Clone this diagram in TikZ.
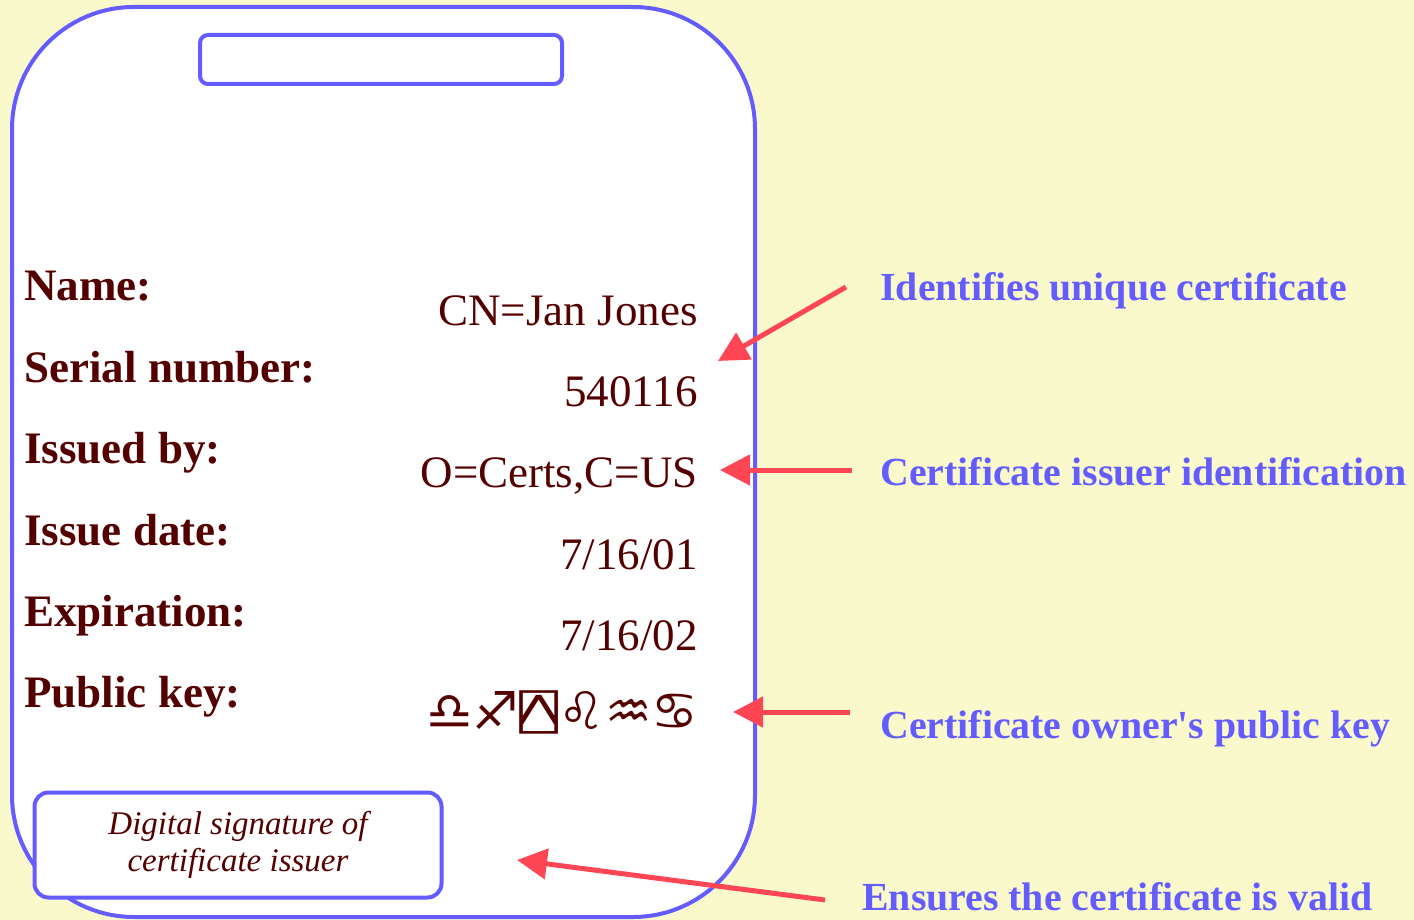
\documentclass[tikz,border=0pt]{standalone}
\usepackage{fontspec}
\setmainfont{Liberation Serif}
\newfontfamily\notefont{Liberation Serif}
\newfontfamily\zodiacfont{DejaVu Sans}
\newfontfamily\aplfont{DejaVu Sans Mono}
\usetikzlibrary{arrows.meta}

\definecolor{pagebg}{RGB}{250,249,204}
\definecolor{cardblue}{RGB}{100,92,255}
\definecolor{arrowred}{RGB}{255,70,85}
\definecolor{inkbrown}{RGB}{85,0,0}

\begin{document}
\begin{tikzpicture}[
  x=0.5pt, y=-0.5pt,
  card/.style={draw=cardblue, line width=2pt, fill=white, rounded corners=61pt, minimum width=371.5pt, minimum height=455pt, inner sep=0pt},
  slot/.style={draw=cardblue, line width=2pt, fill=white, rounded corners=4pt, minimum width=181pt, minimum height=24.5pt, inner sep=0pt},
  sigbox/.style={draw=cardblue, line width=2pt, fill=white, rounded corners=7pt, minimum width=203.5pt, minimum height=52.5pt, align=center, text=inkbrown, font=\fontsize{16.5}{18.5}\selectfont\itshape},
  field/.style={anchor=base west, inner sep=0pt, text=inkbrown, font=\fontsize{22.5}{27}\selectfont\bfseries},
  value/.style={anchor=base east, inner sep=0pt, text=inkbrown, font=\fontsize{22.5}{27}\selectfont},
  note/.style={anchor=base west, inner sep=0pt, text=cardblue, font=\notefont\fontsize{19.9}{24}\selectfont\bfseries},
  pointer/.style={draw=arrowred, line width=2.5pt, -{Triangle[length=15pt,width=15pt]}}
]

% page
\fill[pagebg] (0,0) rectangle (1414,920);
\useasboundingbox (0,0) rectangle (1414,920);

% the certificate card
\node[card] (card) at (383.5,462) {};
\node[slot] (slot) at (381,59.5) {};

% fields on the left
\node[field] (name)   at (24,300) {Name:};
\node[field] (serial) at (24,382) {Serial number:};
\node[field] (issuer) at (24,463) {Issued by:};
\node[field] (issued) at (24,545) {Issue date:};
\node[field] (expiry) at (24,626) {Expiration:};
\node[field] (pubkey) at (24,707) {Public key:};

% values on the right
\node[value] (nameval)   at (698,325) {CN=Jan Jones};
\node[value] (serialval) at (698,406) {540116};
\node[value] (issuerval) at (698,487) {O=Certs,C=US};
\node[value] (issuedval) at (698,569) {7/16/01};
\node[value] (expiryval) at (698,650) {7/16/02};
\node[value, font=\fontsize{26}{30}\selectfont] (keyval) at (699,729)
  {{\zodiacfont ♎♐}\scalebox{1.25}[0.9]{\aplfont ⍓}{\zodiacfont ♌♒♋}};

% signature
\node[sigbox] (sig) at (238,845) {Digital signature of\\certificate issuer};

% notes
\node[note] (noteid)     at (880,300) {Identifies unique certificate};
\node[note] (noteissuer) at (880,485) {Certificate issuer identification};
\node[note] (notekey)    at (880,738) {Certificate owner's public key};
\node[note] (notevalid)  at (862,910) {Ensures the certificate is valid};

% arrow ends
\coordinate (tailid) at (846,287);
\coordinate (tipid) at (718,361);
\coordinate (tailissuer) at (852,470);
\coordinate (tipissuer) at (720,470);
\coordinate (tailkey) at (850,712);
\coordinate (tipkey) at (733,712);
\coordinate (tailvalid) at (825,900);
\coordinate (tipvalid) at (517,860);

\draw[pointer] (tailid) -- (tipid);
\draw[pointer] (tailissuer) -- (tipissuer);
\draw[pointer] (tailkey) -- (tipkey);
\draw[pointer] (tailvalid) -- (tipvalid);
\end{tikzpicture}
\end{document}
